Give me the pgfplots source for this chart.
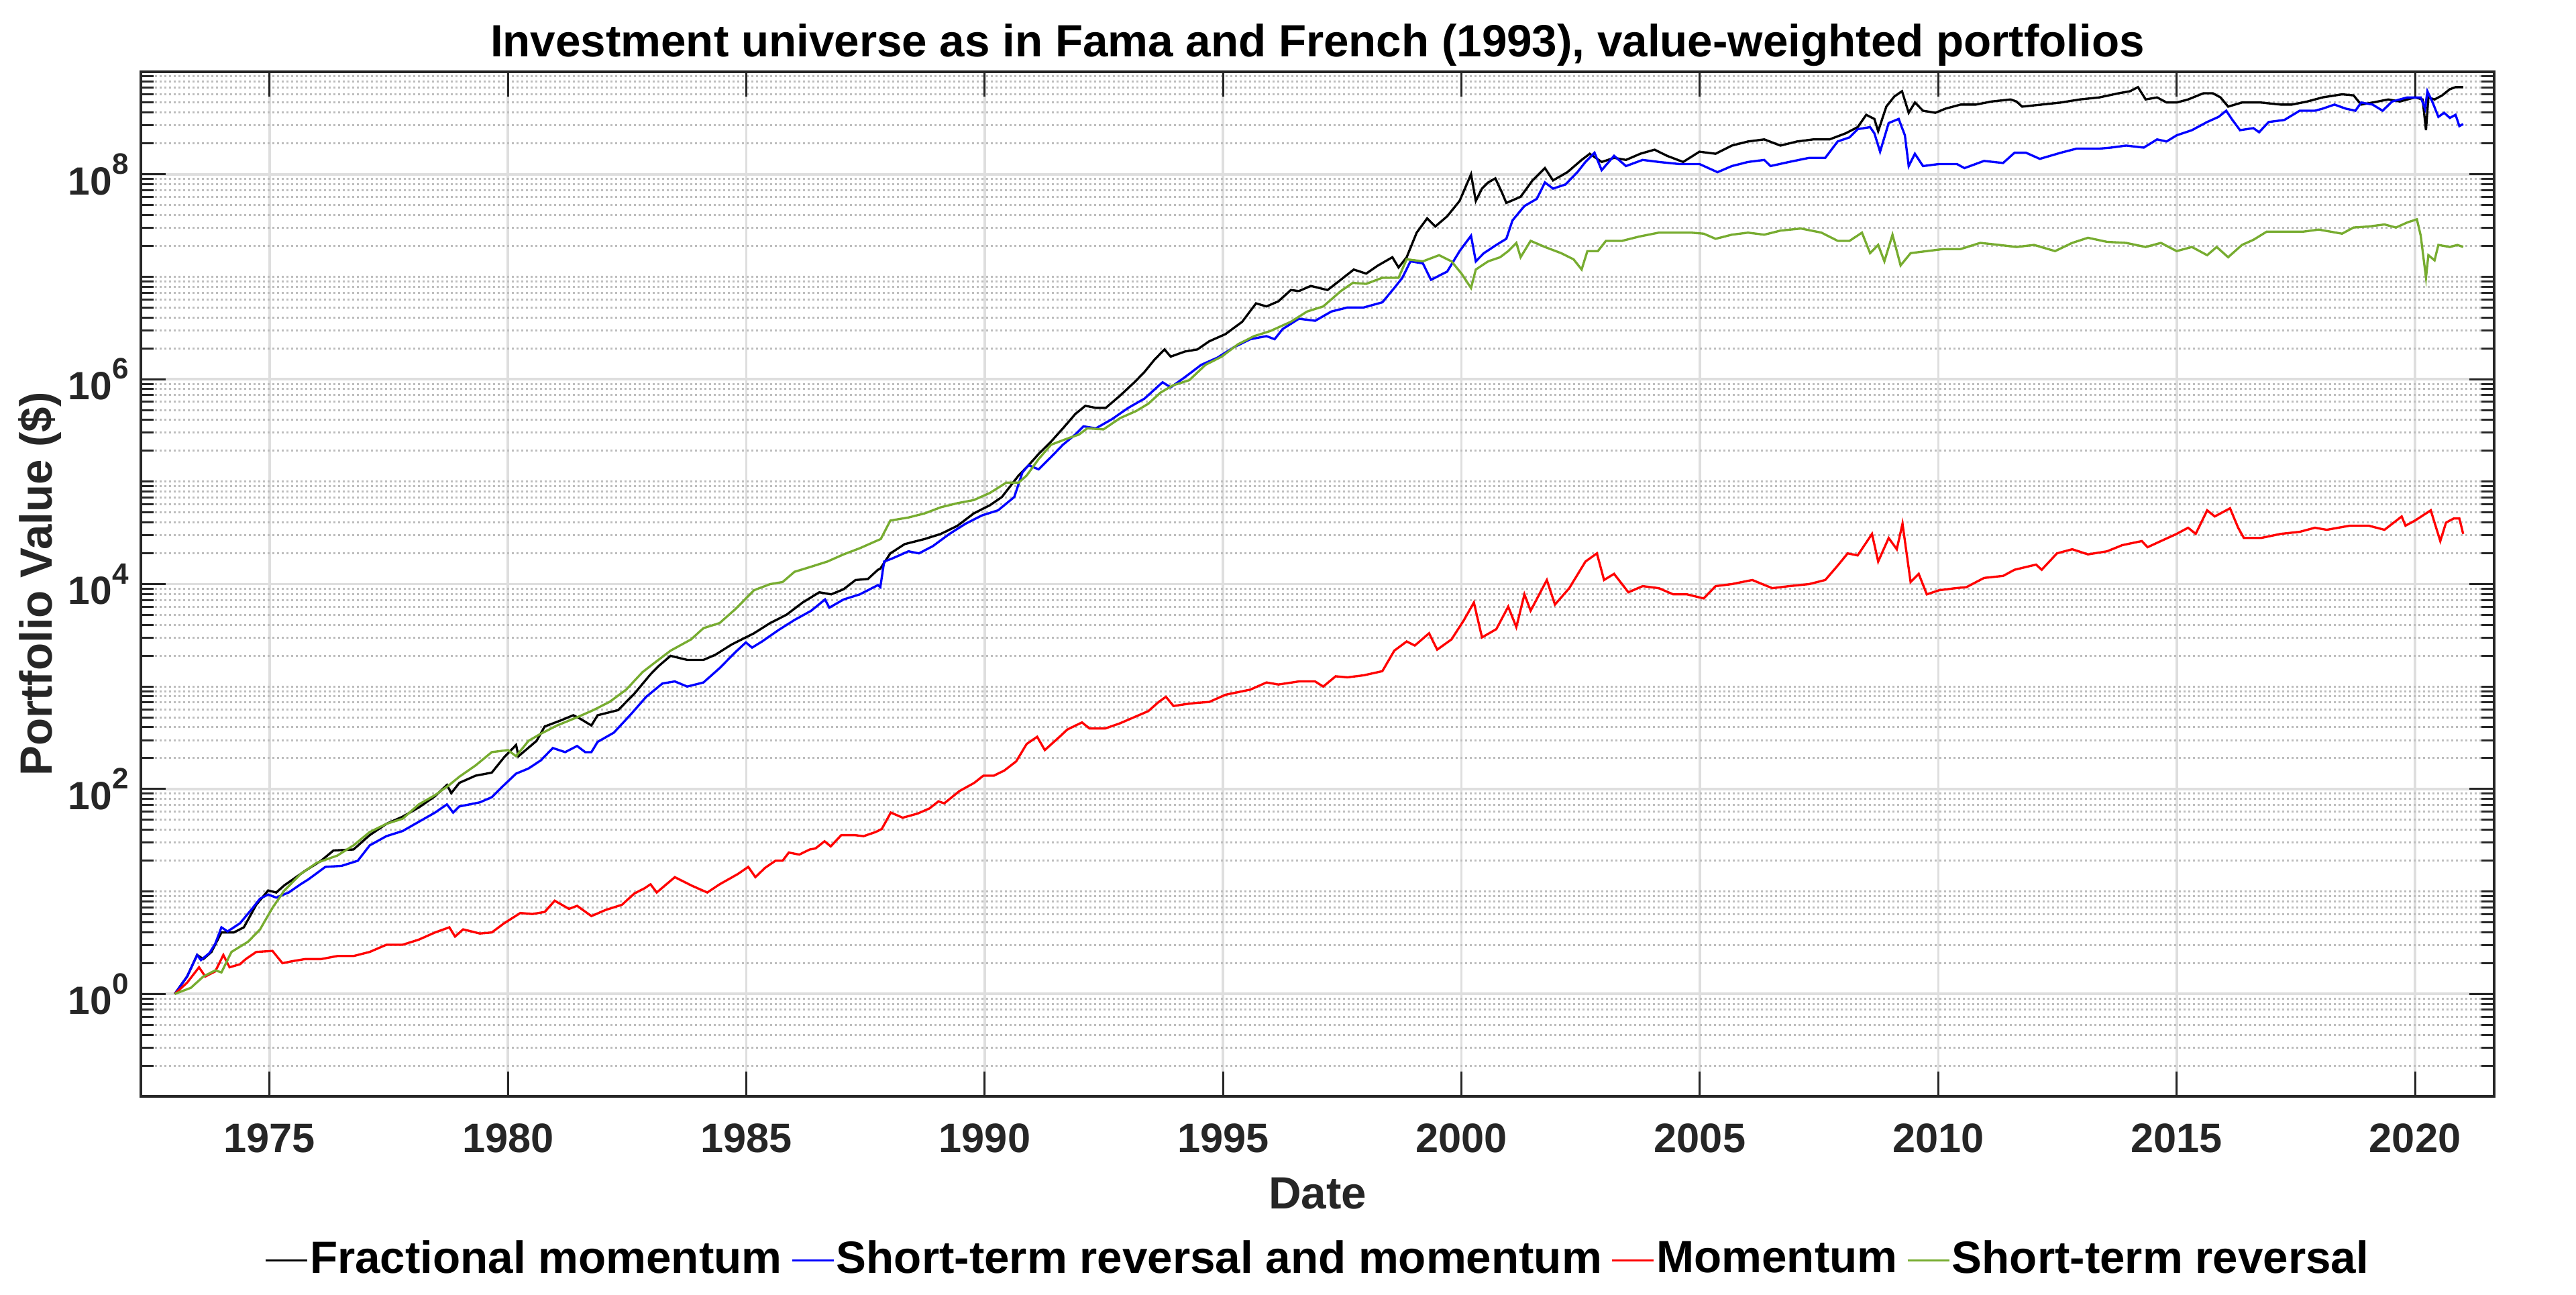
\documentclass[border=0pt]{standalone}
\usepackage{fontspec}
\setmainfont{Liberation Sans}
\usepackage{pgfplots}
\pgfplotsset{compat=1.18}
\definecolor{mgreen}{rgb}{0.466,0.674,0.188}
\definecolor{axc}{gray}{0.15}
\definecolor{gmaj}{gray}{0.87}
\definecolor{gmin}{gray}{0.74}
\newcommand{\tenpow}[1]{10\raisebox{4.6pt}{\fontsize{6.6}{7}\selectfont #1}}
\begin{document}
\begin{tikzpicture}
\path[use as bounding box] (0,0) rectangle (576pt,289.35pt);
\begin{axis}[
  at={(31.5pt,44.25pt)}, anchor=south west,
  scale only axis, width=526.2pt, height=229.05pt,
  ymode=log, log basis y=10,
  xmin=1972.3, xmax=2021.66, ymin=0.1, ymax=1e9,
  xtick={1975,1980,1985,1990,1995,2000,2005,2010,2015,2020},
  xticklabels={1975,1980,1985,1990,1995,2000,2005,2010,2015,2020},
  ytick={1,100,10000,1000000,100000000},
  yticklabels={\tenpow{0},\tenpow{2},\tenpow{4},\tenpow{6},\tenpow{8}},
  minor ytick={0.2,0.3,0.4,0.5,0.6,0.7,0.8,0.9,
    2,3,4,5,6,7,8,9,10,20,30,40,50,60,70,80,90,
    200,300,400,500,600,700,800,900,1000,2000,3000,4000,5000,6000,7000,8000,9000,
    2e4,3e4,4e4,5e4,6e4,7e4,8e4,9e4,1e5,2e5,3e5,4e5,5e5,6e5,7e5,8e5,9e5,
    2e6,3e6,4e6,5e6,6e6,7e6,8e6,9e6,1e7,2e7,3e7,4e7,5e7,6e7,7e7,8e7,9e7,
    2e8,3e8,4e8,5e8,6e8,7e8,8e8,9e8},
  tick align=inside,
  major tick length=5.55pt, minor tick length=2.85pt,
  xtick pos=both, ytick pos=both,
  xmajorgrids, ymajorgrids, yminorgrids,
  major grid style={line width=0.55pt, color=gmaj},
  minor grid style={line width=0.45pt, color=gmin, dash pattern=on 0.45pt off 0.6pt},
  axis line style={line width=0.5pt, color=axc},
  every tick/.style={line width=0.45pt, color=axc},
  ticklabel style={color=axc},
  xticklabel style={font=\fontsize{9.2}{11}\selectfont\bfseries, anchor=base, yshift=-12.45pt},
  yticklabel style={font=\fontsize{8.8}{10}\selectfont\bfseries, inner sep=0pt, xshift=-2.55pt},
  title={Investment universe as in Fama and French (1993), value-weighted portfolios},
  title style={at={(0.5,1)}, anchor=base, yshift=-2.7pt, inner sep=0pt, font=\fontsize{10.1}{12}\selectfont\bfseries},
  xlabel={Date},
  xlabel style={at={(axis description cs:0.5,-0.1094)}, anchor=base, inner sep=0pt, color=axc, font=\fontsize{10.1}{12}\selectfont\bfseries},
  ylabel={Portfolio Value (\$)},
  ylabel style={at={(axis description cs:-0.0379,0.5)}, anchor=base, inner sep=0pt, color=axc, font=\fontsize{10.1}{12}\selectfont\bfseries},
  legend columns=-1,
  legend style={at={(axis description cs:0.5,-0.1601)}, anchor=center, draw=none, fill=none,
    font=\fontsize{10.1}{12}\selectfont\bfseries,
    nodes={inner sep=0.4pt},
    /tikz/every even column/.append style={column sep=1.6pt}},
  legend image code/.code={\draw[#1,line width=0.5pt] (0pt,0pt) -- (9.3pt,0pt);},
  every axis plot/.append style={line width=0.5pt},
]
% Fractional momentum
\addplot[black] table {
1973.01 1
1973.27 1.479
1973.48 2.399
1973.61 2.188
1973.78 2.570
1973.99 3.981
1974.25 3.981
1974.46 4.467
1974.72 7.413
1974.97 10.23
1975.14 9.772
1975.31 11.48
1975.74 15.85
1976.08 19.95
1976.34 25.12
1976.76 25.70
1977.10 35.48
1977.45 45.71
1977.79 53.70
1978.13 66.07
1978.47 85.11
1978.72 109.6
1978.81 91.20
1978.98 114.8
1979.32 134.9
1979.66 144.5
1979.92 204.2
1980.17 269.2
1980.22 208.9
1980.60 295.1
1980.77 407.4
1981.11 467.7
1981.37 524.8
1981.50 489.8
1981.75 416.9
1981.88 524.8
1982.31 588.8
1982.65 851.1
1982.99 1318
1983.16 1585
1983.41 1995
1983.76 1820
1984.10 1820
1984.35 2042
1984.69 2570
1985.16 3311
1985.50 4169
1985.84 5012
1986.18 6607
1986.53 8318
1986.78 7943
1987.04 8913
1987.29 1.096e4
1987.55 1.122e4
1987.76 1.380e4
1987.81 1.413e4
1988.02 1.995e4
1988.32 2.455e4
1988.74 2.754e4
1989.08 3.090e4
1989.43 3.715e4
1989.77 4.898e4
1990.11 5.888e4
1990.36 7.079e4
1990.71 1.148e5
1990.92 1.445e5
1991.13 1.862e5
1991.39 2.455e5
1991.64 3.311e5
1991.90 4.571e5
1992.11 5.495e5
1992.33 5.248e5
1992.54 5.248e5
1992.84 6.918e5
1993.14 9.333e5
1993.35 1.175e6
1993.56 1.549e6
1993.77 1.950e6
1993.90 1.660e6
1994.20 1.862e6
1994.46 1.950e6
1994.71 2.344e6
1995.05 2.754e6
1995.40 3.631e6
1995.69 5.495e6
1995.91 5.129e6
1996.16 5.754e6
1996.42 7.413e6
1996.59 7.244e6
1996.84 8.128e6
1997.19 7.413e6
1997.44 9.120e6
1997.74 1.175e7
1998.00 1.072e7
1998.25 1.288e7
1998.55 1.549e7
1998.68 1.230e7
1998.85 1.549e7
1999.06 2.692e7
1999.28 3.715e7
1999.45 3.090e7
1999.70 3.890e7
1999.96 5.495e7
2000.20 1.000e8
2000.30 5.495e7
2000.43 7.244e7
2000.56 8.318e7
2000.71 9.120e7
2000.85 6.607e7
2000.94 5.248e7
2001.24 6.026e7
2001.49 8.710e7
2001.75 1.148e8
2001.92 8.710e7
2002.22 1.047e8
2002.52 1.380e8
2002.69 1.585e8
2002.94 1.318e8
2003.20 1.445e8
2003.45 1.380e8
2003.75 1.585e8
2004.05 1.738e8
2004.31 1.514e8
2004.65 1.318e8
2004.99 1.660e8
2005.33 1.585e8
2005.67 1.905e8
2006.01 2.089e8
2006.35 2.188e8
2006.69 1.905e8
2007.04 2.089e8
2007.38 2.188e8
2007.72 2.188e8
2008.06 2.512e8
2008.31 2.884e8
2008.49 3.802e8
2008.66 3.467e8
2008.74 2.630e8
2008.91 4.571e8
2009.08 5.754e8
2009.24 6.457e8
2009.38 3.981e8
2009.51 5.012e8
2009.68 4.169e8
2009.94 3.981e8
2010.15 4.365e8
2010.47 4.786e8
2010.79 4.786e8
2011.12 5.129e8
2011.52 5.370e8
2011.64 5.129e8
2011.76 4.571e8
2012.17 4.786e8
2012.57 5.012e8
2012.97 5.370e8
2013.38 5.623e8
2013.78 6.166e8
2014.02 6.457e8
2014.19 7.079e8
2014.35 5.370e8
2014.59 5.623e8
2014.79 5.012e8
2015.00 5.012e8
2015.24 5.370e8
2015.56 6.166e8
2015.76 6.166e8
2015.92 5.623e8
2016.08 4.571e8
2016.37 5.012e8
2016.77 5.012e8
2017.18 4.786e8
2017.42 4.786e8
2017.74 5.129e8
2018.06 5.623e8
2018.47 6.026e8
2018.71 5.888e8
2018.87 4.786e8
2019.11 5.012e8
2019.44 5.370e8
2019.68 5.129e8
2020.00 5.623e8
2020.16 5.370e8
2020.23 2.692e8
2020.28 5.623e8
2020.41 5.370e8
2020.57 5.888e8
2020.73 6.761e8
2020.85 7.079e8
2021.01 7.079e8
};
\addlegendentry{Fractional momentum}
% Short-term reversal and momentum
\addplot[blue] table {
1973.01 1
1973.27 1.479
1973.48 2.399
1973.56 2.138
1973.74 2.512
1973.86 3.090
1973.99 4.467
1974.12 4.074
1974.38 4.898
1974.63 6.761
1974.80 8.511
1974.97 9.333
1975.14 8.710
1975.40 9.772
1975.65 11.75
1975.82 13.18
1976.17 17.38
1976.51 17.78
1976.85 19.95
1977.10 28.18
1977.45 34.67
1977.79 38.90
1978.13 47.86
1978.47 58.88
1978.72 70.79
1978.85 58.88
1978.98 67.61
1979.41 74.13
1979.66 83.18
1979.92 109.6
1980.17 141.3
1980.43 158.5
1980.69 190.5
1980.94 251.2
1981.20 229.1
1981.45 263.0
1981.62 229.1
1981.75 229.1
1981.88 288.4
1982.22 354.8
1982.56 524.8
1982.90 794.3
1983.24 1072
1983.50 1122
1983.76 1000
1984.10 1096
1984.44 1514
1984.78 2188
1984.99 2692
1985.12 2399
1985.33 2754
1985.67 3548
1986.01 4467
1986.36 5495
1986.65 7079
1986.74 5888
1987.04 7079
1987.38 7943
1987.76 9772
1987.81 9333
1987.89 1.660e4
1988.06 1.778e4
1988.40 2.089e4
1988.62 1.995e4
1988.91 2.344e4
1989.26 3.090e4
1989.60 3.890e4
1989.94 4.677e4
1990.28 5.248e4
1990.62 7.079e4
1990.79 1.230e5
1990.92 1.445e5
1991.13 1.318e5
1991.39 1.738e5
1991.64 2.291e5
1991.90 2.884e5
1992.07 3.467e5
1992.33 3.311e5
1992.67 4.074e5
1993.01 5.248e5
1993.35 6.457e5
1993.73 9.333e5
1993.90 8.318e5
1994.20 1.047e6
1994.54 1.380e6
1994.88 1.622e6
1995.22 2.042e6
1995.57 2.455e6
1995.91 2.630e6
1996.08 2.455e6
1996.25 3.090e6
1996.59 3.890e6
1996.93 3.715e6
1997.27 4.571e6
1997.61 5.012e6
1997.95 5.012e6
1998.34 5.623e6
1998.59 7.762e6
1998.76 9.772e6
1998.93 1.413e7
1999.19 1.349e7
1999.36 9.333e6
1999.70 1.122e7
1999.96 1.778e7
2000.20 2.512e7
2000.30 1.413e7
2000.47 1.698e7
2000.73 2.042e7
2000.94 2.344e7
2001.07 3.548e7
2001.32 4.898e7
2001.58 5.754e7
2001.75 8.318e7
2001.92 7.244e7
2002.18 7.943e7
2002.43 1.047e8
2002.60 1.318e8
2002.79 1.622e8
2002.94 1.096e8
2003.20 1.514e8
2003.45 1.202e8
2003.80 1.380e8
2004.14 1.318e8
2004.56 1.259e8
2004.99 1.259e8
2005.37 1.047e8
2005.67 1.202e8
2006.01 1.318e8
2006.35 1.380e8
2006.48 1.202e8
2006.87 1.318e8
2007.29 1.445e8
2007.63 1.445e8
2007.89 2.089e8
2008.14 2.291e8
2008.31 2.754e8
2008.57 2.884e8
2008.66 2.512e8
2008.78 1.660e8
2008.96 3.162e8
2009.17 3.467e8
2009.30 2.399e8
2009.38 1.202e8
2009.51 1.585e8
2009.68 1.202e8
2010.02 1.259e8
2010.39 1.259e8
2010.55 1.148e8
2010.96 1.349e8
2011.36 1.288e8
2011.60 1.622e8
2011.84 1.622e8
2012.13 1.413e8
2012.57 1.622e8
2012.90 1.778e8
2013.38 1.778e8
2013.62 1.820e8
2013.94 1.905e8
2014.31 1.820e8
2014.59 2.188e8
2014.79 2.089e8
2015.00 2.399e8
2015.32 2.692e8
2015.64 3.236e8
2015.88 3.631e8
2016.04 4.169e8
2016.17 3.388e8
2016.33 2.692e8
2016.61 2.818e8
2016.73 2.570e8
2016.93 3.236e8
2017.26 3.388e8
2017.58 4.169e8
2017.90 4.169e8
2018.06 4.365e8
2018.31 4.786e8
2018.55 4.365e8
2018.75 4.169e8
2018.87 5.012e8
2019.11 4.786e8
2019.32 4.169e8
2019.52 5.129e8
2019.68 5.370e8
2019.84 5.623e8
2020.12 5.623e8
2020.21 4.365e8
2020.26 6.457e8
2020.37 5.012e8
2020.49 3.631e8
2020.61 3.981e8
2020.73 3.548e8
2020.85 3.802e8
2020.93 2.951e8
2021.01 3.090e8
};
\addlegendentry{Short-term reversal and momentum}
% Momentum
\addplot[red] table {
1973.01 1
1973.27 1.288
1973.52 1.820
1973.65 1.479
1973.86 1.660
1974.03 2.399
1974.16 1.820
1974.38 1.950
1974.50 2.188
1974.72 2.570
1975.06 2.630
1975.27 1.995
1975.48 2.089
1975.74 2.188
1976.08 2.188
1976.42 2.344
1976.76 2.344
1977.10 2.570
1977.45 3.020
1977.79 3.020
1978.13 3.388
1978.47 3.981
1978.77 4.467
1978.89 3.631
1979.06 4.266
1979.41 3.890
1979.66 3.981
1979.92 4.898
1980.26 6.166
1980.51 6.026
1980.77 6.310
1980.98 8.128
1981.28 6.761
1981.45 7.244
1981.75 5.754
1982.05 6.607
1982.39 7.413
1982.65 9.550
1982.86 10.72
1982.99 11.75
1983.12 9.772
1983.50 13.80
1983.84 11.48
1984.18 9.772
1984.44 11.75
1984.82 14.79
1985.04 17.38
1985.19 13.80
1985.39 16.98
1985.61 19.95
1985.76 19.95
1985.89 23.99
1986.11 22.91
1986.33 25.70
1986.45 26.30
1986.64 30.90
1986.77 27.54
1986.99 35.48
1987.27 35.48
1987.46 34.67
1987.71 38.02
1987.84 40.74
1988.03 58.88
1988.28 52.48
1988.59 57.54
1988.84 64.57
1989.03 75.86
1989.15 72.44
1989.47 95.50
1989.78 114.8
1989.97 134.9
1990.19 134.9
1990.41 151.4
1990.66 186.2
1990.88 275.4
1991.10 323.6
1991.26 239.9
1991.57 323.6
1991.73 380.2
1992.04 446.7
1992.20 389.0
1992.52 389.0
1992.83 436.5
1993.18 512.9
1993.43 575.4
1993.65 707.9
1993.80 794.3
1993.96 645.7
1994.24 676.1
1994.43 691.8
1994.71 707.9
1995.05 831.8
1995.57 933.3
1995.91 1096
1996.16 1047
1996.59 1122
1996.93 1122
1997.10 1000
1997.36 1259
1997.61 1230
1997.95 1288
1998.34 1413
1998.59 2239
1998.85 2754
1999.02 2512
1999.32 3311
1999.49 2291
1999.79 2884
2000.04 4365
2000.26 6607
2000.43 3020
2000.73 3631
2000.98 6026
2001.15 3802
2001.32 7943
2001.45 5495
2001.79 1.096e4
2001.96 6310
2002.26 9120
2002.60 1.660e4
2002.84 1.995e4
2002.99 1.096e4
2003.20 1.259e4
2003.50 8318
2003.80 9550
2004.14 9120
2004.44 7943
2004.73 7943
2005.08 7244
2005.33 9550
2005.67 1.000e4
2006.10 1.096e4
2006.52 9120
2006.87 9550
2007.29 1.000e4
2007.63 1.096e4
2007.89 1.514e4
2008.10 1.995e4
2008.31 1.905e4
2008.61 3.090e4
2008.74 1.660e4
2008.96 2.818e4
2009.13 2.188e4
2009.25 3.890e4
2009.42 1.047e4
2009.59 1.259e4
2009.76 7943
2010.02 8710
2010.36 9120
2010.59 9333
2010.96 1.148e4
2011.36 1.202e4
2011.60 1.380e4
2012.05 1.549e4
2012.17 1.380e4
2012.49 1.995e4
2012.81 2.188e4
2013.14 1.950e4
2013.54 2.089e4
2013.86 2.399e4
2014.27 2.630e4
2014.39 2.291e4
2014.67 2.630e4
2015.00 3.090e4
2015.24 3.548e4
2015.40 3.090e4
2015.64 5.248e4
2015.80 4.571e4
2016.12 5.495e4
2016.29 3.548e4
2016.41 2.818e4
2016.77 2.818e4
2017.18 3.090e4
2017.58 3.236e4
2017.90 3.548e4
2018.15 3.388e4
2018.63 3.715e4
2019.03 3.715e4
2019.36 3.388e4
2019.72 4.571e4
2019.80 3.715e4
2020.00 4.169e4
2020.33 5.248e4
2020.53 2.630e4
2020.65 3.981e4
2020.81 4.365e4
2020.93 4.365e4
2021.01 3.090e4
};
\addlegendentry{Momentum}
% Short-term reversal
\addplot[mgreen] table {
1973.01 1
1973.35 1.148
1973.61 1.479
1973.86 1.698
1973.99 1.622
1974.20 2.570
1974.55 3.236
1974.80 4.266
1975.06 6.918
1975.31 10.23
1975.65 14.79
1975.99 19.05
1976.42 22.39
1976.76 28.18
1977.10 38.02
1977.45 45.71
1977.79 51.29
1978.13 70.79
1978.47 87.10
1978.77 109.6
1978.98 131.8
1979.32 169.8
1979.66 229.1
1980.00 239.9
1980.17 208.9
1980.43 295.1
1980.69 346.7
1981.03 416.9
1981.45 501.2
1981.79 588.8
1982.13 707.9
1982.48 933.3
1982.82 1380
1983.07 1698
1983.41 2239
1983.84 2884
1984.10 3715
1984.44 4169
1984.78 5754
1985.16 8710
1985.50 1.000e4
1985.76 1.047e4
1986.01 1.318e4
1986.36 1.479e4
1986.70 1.660e4
1987.04 1.950e4
1987.38 2.239e4
1987.72 2.630e4
1987.82 2.754e4
1988.02 4.169e4
1988.40 4.467e4
1988.74 4.898e4
1989.08 5.623e4
1989.43 6.166e4
1989.77 6.607e4
1990.11 7.762e4
1990.45 9.772e4
1990.71 9.772e4
1990.88 1.148e5
1991.13 1.660e5
1991.39 2.291e5
1991.73 2.630e5
1991.98 2.884e5
1992.15 3.311e5
1992.49 3.236e5
1992.84 4.169e5
1993.18 4.898e5
1993.43 5.754e5
1993.69 7.413e5
1993.95 8.710e5
1994.29 9.772e5
1994.63 1.380e6
1994.97 1.660e6
1995.31 2.188e6
1995.65 2.630e6
1995.99 2.951e6
1996.42 3.631e6
1996.76 4.571e6
1997.10 5.129e6
1997.47 7.244e6
1997.72 8.710e6
1998.00 8.511e6
1998.34 9.772e6
1998.68 9.772e6
1998.85 1.479e7
1999.19 1.413e7
1999.53 1.622e7
1999.79 1.413e7
2000.00 1.072e7
2000.20 7.762e6
2000.30 1.175e7
2000.56 1.413e7
2000.81 1.549e7
2000.98 1.778e7
2001.15 2.138e7
2001.24 1.549e7
2001.45 2.239e7
2001.75 1.950e7
2002.09 1.698e7
2002.35 1.479e7
2002.52 1.175e7
2002.64 1.778e7
2002.86 1.778e7
2003.03 2.239e7
2003.37 2.239e7
2003.71 2.455e7
2004.14 2.692e7
2004.48 2.692e7
2004.82 2.692e7
2005.08 2.630e7
2005.33 2.344e7
2005.67 2.570e7
2006.01 2.692e7
2006.35 2.570e7
2006.69 2.818e7
2007.12 2.951e7
2007.55 2.692e7
2007.89 2.239e7
2008.14 2.239e7
2008.40 2.692e7
2008.57 1.698e7
2008.74 2.042e7
2008.87 1.413e7
2009.04 2.570e7
2009.21 1.288e7
2009.42 1.698e7
2009.76 1.778e7
2010.11 1.862e7
2010.47 1.862e7
2010.88 2.138e7
2011.28 2.042e7
2011.64 1.950e7
2012.01 2.042e7
2012.45 1.778e7
2012.81 2.138e7
2013.14 2.399e7
2013.54 2.188e7
2013.94 2.138e7
2014.35 1.950e7
2014.67 2.138e7
2015.00 1.778e7
2015.32 1.950e7
2015.64 1.622e7
2015.84 1.950e7
2016.08 1.549e7
2016.37 2.042e7
2016.61 2.291e7
2016.89 2.754e7
2017.26 2.754e7
2017.66 2.754e7
2017.98 2.884e7
2018.47 2.630e7
2018.71 3.020e7
2019.03 3.090e7
2019.36 3.236e7
2019.60 3.020e7
2019.84 3.388e7
2020.04 3.631e7
2020.12 2.512e7
2020.16 1.778e7
2020.23 9.772e6
2020.28 1.622e7
2020.41 1.445e7
2020.49 2.042e7
2020.73 1.950e7
2020.89 2.042e7
2021.01 1.950e7
};
\addlegendentry{Short-term reversal}
\end{axis}
\end{tikzpicture}
\end{document}
